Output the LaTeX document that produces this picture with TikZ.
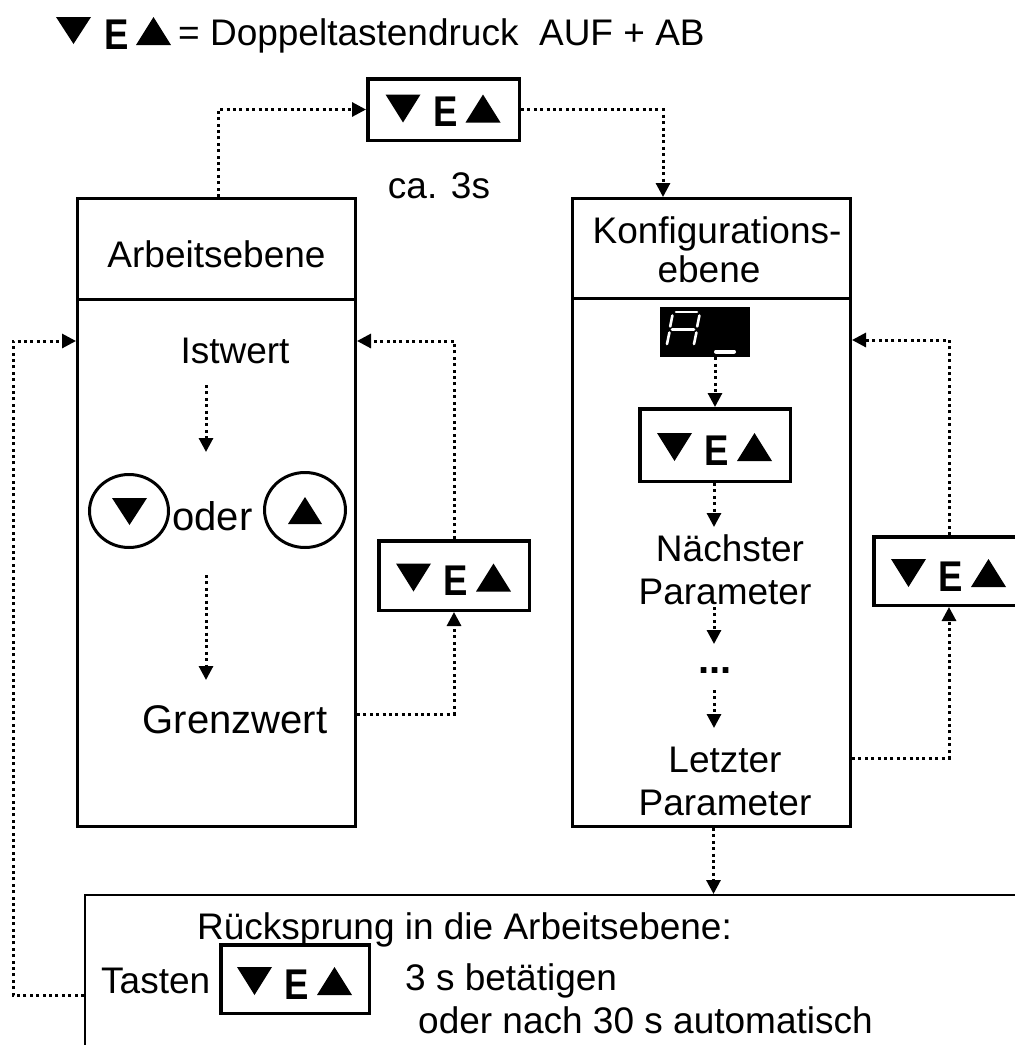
\documentclass[tikz,border=0pt]{standalone}
\usepackage{fontspec}
\setmainfont{Liberation Sans}
\usetikzlibrary{arrows.meta,shapes.geometric}
\newcommand\keyglyphs[3]{%
  \begin{scope}[shift={(#1.center)}, yshift=#3]
    \fill (-58,-12) -- (-23,-12) -- (-40.5,16) -- cycle;
    \fill (22,16) -- (57,16) -- (39.5,-12) -- cycle;
    \node[keyE] (#2) at (2,20) {\scalebox{0.85}[1]{E}};
  \end{scope}}
\begin{document}
\begin{tikzpicture}[x=1pt,y=-1pt,
  txt/.style={font=\fontsize{37}{41}\selectfont, inner sep=0pt, anchor=base},
  keyE/.style={font=\fontsize{43}{43}\selectfont\bfseries, inner sep=0pt, anchor=base},
  bigbox/.style={draw, line width=3pt, inner sep=0pt},
  keybox/.style={draw, line width=3.5pt, inner sep=0pt},
  dotline/.style={line width=3pt, dash pattern=on 3pt off 3.4pt},
  dotarrow/.style={dotline, -{Triangle[length=14pt,width=14pt]}},
  ell/.style={draw, ellipse, line width=3pt, inner sep=0pt},
  seg/.style={white, line width=2.6pt, line cap=round},
]
\useasboundingbox (0,0) rectangle (1015,1045);

% legend
\fill (56,17) -- (91,17) -- (73.5,44) -- cycle;
\node[keyE] (legE) at (116.5,49) {\scalebox{0.85}[1]{E}};
\fill (136,45) -- (171,45) -- (153.5,17) -- cycle;
\node[txt, anchor=base west] (legtxt) at (178,45) {= Doppeltastendruck\ \ AUF + AB};

% top key
\node[keybox, minimum width=151.5pt, minimum height=61.5pt] (keytop) at (443.5,109.5) {};
\keyglyphs{keytop}{eTop}{3pt}
\node[txt] (ca) at (439,198) {ca. 3s};

% big boxes
\node[bigbox, minimum width=278pt, minimum height=628pt] (arbeit) at (216.5,512.5) {};
\node[bigbox, minimum width=278pt, minimum height=628pt] (konfig) at (711.5,512.5) {};
\draw[line width=3pt] (arbeit.west |- 0,299) -- (arbeit.east |- 0,299);
\draw[line width=3pt] (konfig.west |- 0,298) -- (konfig.east |- 0,298);

% left box content
\node[txt] (arbtitle) at (216.5,267) {Arbeitsebene};
\node[txt] (istwert) at (235,363) {Istwert};
\node[ell, minimum width=79pt, minimum height=73pt] (ellL) at (129,511) {};
\node[ell, minimum width=81pt, minimum height=75pt] (ellR) at (305,510) {};
\fill (112,498) -- (147,498) -- (129.5,525) -- cycle;
\fill (288,524) -- (322,524) -- (305,497) -- cycle;
\node[txt, font=\fontsize{40}{44}\selectfont] (oder) at (212.5,530) {oder};
\node[txt, font=\fontsize{40}{44}\selectfont] (grenz) at (235,733) {Grenzwert};

% right box content
\node[txt] (konf1) at (717,243) {Konfigurations-};
\node[txt] (konf2) at (709,282) {ebene};
\node[fill=black, inner sep=0pt, minimum width=90pt, minimum height=50pt] (disp) at (705,332) {};
\draw[seg] (676,312) -- (697,312);
\draw[seg] (672.4,315.5) -- (670.2,326.5);
\draw[seg] (699.4,315.5) -- (697.2,326.5);
\draw[seg] (672,329.5) -- (694,329.5);
\draw[seg] (669.4,332.5) -- (667,344);
\draw[seg] (696.4,332.5) -- (694,344);
\draw[seg, line width=4pt] (716,351.5) -- (734,351.5);
\node[keybox, minimum width=150.5pt, minimum height=72.5pt] (keykonf) at (715,445) {};
\keyglyphs{keykonf}{eKonf}{0pt}
\node[txt] (naechst) at (730,561) {Nächster};
\node[txt] (param1) at (725,604) {Parameter};
\node[txt, font=\fontsize{40}{40}\selectfont\bfseries] (ellip) at (715,673) {...};
\node[txt] (letzt) at (725,772) {Letzter};
\node[txt] (param2) at (725,815) {Parameter};

% side keys
\node[keybox, minimum width=150.5pt, minimum height=69.5pt] (keyleft) at (454,575.5) {};
\keyglyphs{keyleft}{eLeft}{0pt}
\node[keybox, minimum width=150.5pt, minimum height=68.5pt] (keyright) at (949,571) {};
\keyglyphs{keyright}{eRight}{0pt}

% bottom box
\node[draw, line width=2pt, inner sep=0pt, minimum width=960pt, minimum height=180pt, anchor=north west] (rueck) at (84,894) {};
\node[txt, anchor=base west] (ruecktxt) at (197,939) {Rücksprung in die Arbeitsebene:};
\node[txt, anchor=base west] (tasten) at (101,993) {Tasten};
\node[keybox, minimum width=148.5pt, minimum height=68.5pt] (keybot) at (295,979) {};
\keyglyphs{keybot}{eBot}{0pt}
\node[txt, anchor=base west] (betaet) at (405,990) {3 s betätigen};
\node[txt, anchor=base west] (nach) at (418,1033) {oder nach 30 s automatisch};

% helper coordinates
\coordinate (a1s) at (206,385);
\coordinate (a1e) at (206,452);
\coordinate (a2s) at (206,575);
\coordinate (a2e) at (206,680);
\coordinate (grY) at (0,714);
\coordinate (retL) at (0,341);
\coordinate (letY) at (0,758);
\coordinate (retR) at (0,340);
\coordinate (k1e) at (714,527);
\coordinate (k2s) at (714,607);
\coordinate (k2e) at (714,644);
\coordinate (k3s) at (714,690);
\coordinate (k3e) at (714,728);
\coordinate (botY) at (0,995);
\coordinate (farL) at (13,341);

% connectors
\draw[dotarrow] ([xshift=1.5pt]arbeit.north) |- (keytop.west);
\draw[dotarrow] (keytop.east) -| ([xshift=-48.5pt]konfig.north);
\draw[dotarrow] (a1s) -- (a1e);
\draw[dotarrow] (a2s) -- (a2e);
\draw[dotarrow] (arbeit.east |- grY) -| (keyleft.south);
\draw[dotarrow] (keyleft.north) |- (arbeit.east |- retL);
\draw[dotarrow] (konfig.east |- letY) -| (keyright.south);
\draw[dotarrow] (keyright.north) |- (konfig.east |- retR);
\draw[dotarrow] (disp.south -| keykonf.north) -- (keykonf.north);
\draw[dotarrow] (keykonf.south -| k1e) -- (k1e);
\draw[dotarrow] (k2s) -- (k2e);
\draw[dotarrow] (k3s) -- (k3e);
\draw[dotarrow] ([xshift=2pt]konfig.south) -- ([xshift=2pt]konfig.south |- rueck.north);
\draw[dotarrow] (rueck.west |- botY) -| (farL) -- (arbeit.west |- farL);
\end{tikzpicture}
\end{document}
